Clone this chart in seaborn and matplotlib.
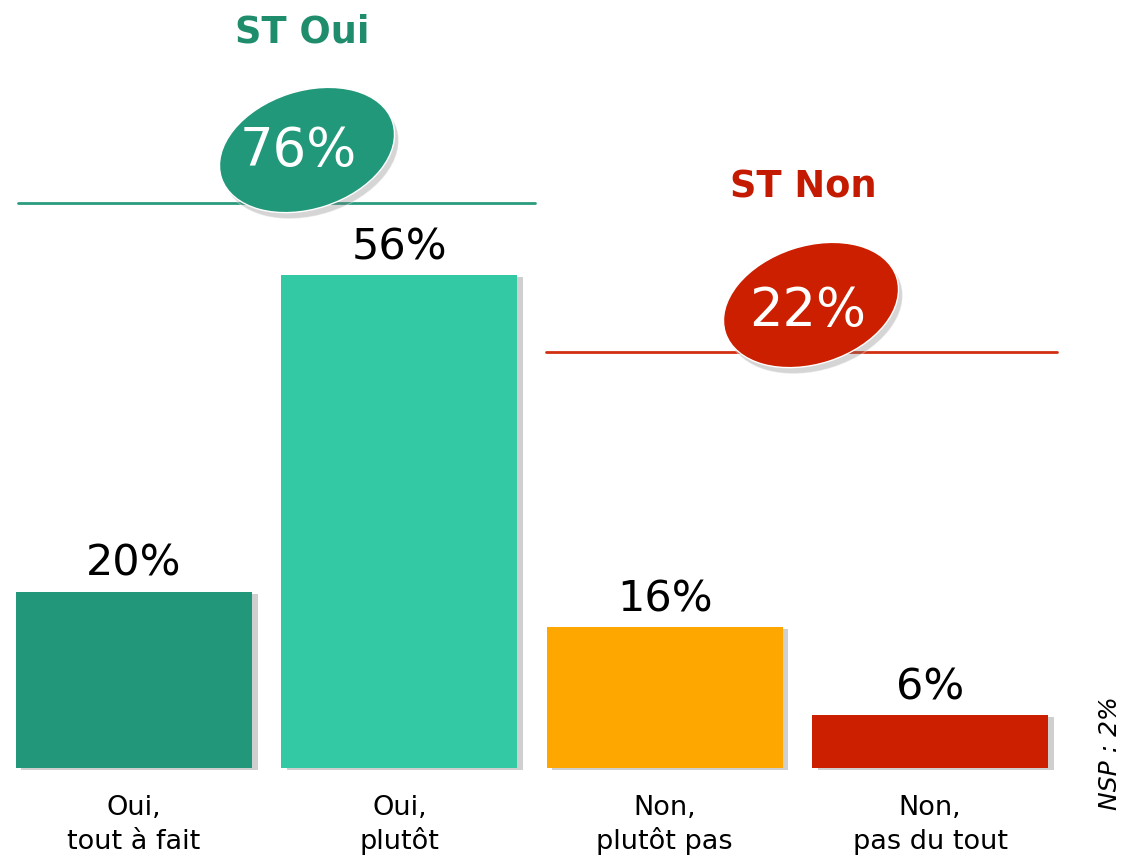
import matplotlib
matplotlib.use("Agg")
import matplotlib.pyplot as plt
import matplotlib.patheffects as pe
from matplotlib.patches import Ellipse
import pandas as pd
import seaborn as sns

# data
categories = ["Oui,\ntout à fait", "Oui,\nplutôt", "Non,\nplutôt pas", "Non,\npas du tout"]
values = [20, 56, 16, 6]
bar_colors = ["#23977A", "#33C9A4", "#FDA700", "#CC1F00"]
group_labels = ["ST Oui", "ST Non"]
group_totals = [76, 22]
group_colors = ["#22987A", "#CC1F00"]
group_title_colors = ["#1F8C6C", "#C41A00"]
nsp_label = "NSP : 2%"

df = pd.DataFrame({"cat": categories, "val": values})

sns.set_style("white")
plt.rcParams["font.family"] = ["DejaVu Sans"]

fig = plt.figure(figsize=(11.24, 8.56), dpi=100)
ax = fig.add_axes([0, 0, 1, 1])

sns.barplot(data=df, x="cat", y="val", hue="cat", palette=bar_colors,
            width=0.89, legend=False, ax=ax, saturation=1, linewidth=0)

for bar in ax.patches:
    bar.set_path_effects([pe.SimplePatchShadow(offset=(4, -1.5), shadow_rgbFace="#888888", alpha=0.4),
                          pe.Normal()])

ax.set_xlim(-0.505, 3.731)
ax.set_ylim(-10, 87.27)
ax.axis("off")

# value labels above bars
for i, v in enumerate(values):
    ax.text(i, v + 0.8, f"{v}%", ha="center", va="bottom", fontsize=31, color="black")

# category labels under bars, one line at a time so baselines line up
for i, c in enumerate(categories):
    first, second = c.split("\n")
    ax.text(i, -5.34, first, ha="center", va="baseline", fontsize=19.5, color="black")
    ax.text(i, -9.2, second, ha="center", va="baseline", fontsize=19.5, color="black")

# group separators
ax.plot([-0.437, 1.511], [64.2, 64.2], color="#2A9C7E", lw=2, zorder=1)
ax.plot([1.553, 3.479], [47.3, 47.3], color="#D03010", lw=2, zorder=1)

# ellipses with totals (positions in inches)
ell_centers = [(3.07, 7.06), (8.11, 5.51)]
text_centers = [(2.98, 7.05), (8.08, 5.45)]
for (cx, cy), (tx, ty), tot, col in zip(ell_centers, text_centers, group_totals, group_colors):
    shadow = Ellipse((cx + 0.04, cy - 0.06), 1.8, 1.18, angle=18, facecolor="#777777",
                     alpha=0.3, transform=fig.dpi_scale_trans, zorder=3)
    ax.add_artist(shadow)
    ell = Ellipse((cx, cy), 1.8, 1.18, angle=18, facecolor=col,
                  transform=fig.dpi_scale_trans, zorder=4)
    ax.add_artist(ell)
    ax.text(tx, ty, f"{tot}%", ha="center", va="center", fontsize=38, color="white",
            transform=fig.dpi_scale_trans, zorder=5)

# group titles
ax.text(3.02, 8.24, group_labels[0], ha="center", va="center", fontsize=26.5, fontweight="bold",
        color=group_title_colors[0], transform=fig.dpi_scale_trans)
ax.text(8.03, 6.69, group_labels[1], ha="center", va="center", fontsize=26.5, fontweight="bold",
        color=group_title_colors[1], transform=fig.dpi_scale_trans)

# NSP note
ax.text(11.1, 1.03, nsp_label, ha="center", va="center", rotation=90, fontsize=18,
        style="italic", color="black", transform=fig.dpi_scale_trans)

fig.savefig("out.png", dpi=100)
